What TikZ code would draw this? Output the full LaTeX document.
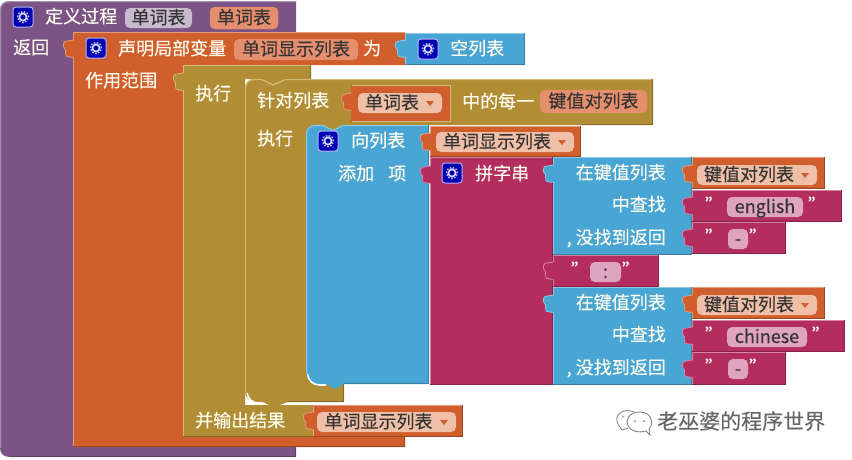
\documentclass[tikz,border=0pt]{standalone}
\usepackage{fontspec}
\setmainfont{Noto Sans CJK SC}[FakeBold=0.2]
\definecolor{pur}{HTML}{7C5385}\definecolor{purL}{HTML}{A88FB0}\definecolor{purD}{HTML}{5E3F66}
\definecolor{org}{HTML}{D05F2D}\definecolor{orgL}{HTML}{E59A78}\definecolor{orgD}{HTML}{9C4722}
\definecolor{olv}{HTML}{B18E35}\definecolor{olvL}{HTML}{D2BC78}\definecolor{olvD}{HTML}{85692A}
\definecolor{blu}{HTML}{49A6D4}\definecolor{bluL}{HTML}{8CCBE8}\definecolor{bluD}{HTML}{3A7FA3}
\definecolor{mag}{HTML}{B32D5E}\definecolor{magL}{HTML}{D684A2}\definecolor{magD}{HTML}{86224A}
\definecolor{icob}{HTML}{0000B0}\definecolor{txtw}{HTML}{FFFDF0}
\definecolor{fpur}{HTML}{C8BBCE}\definecolor{forg}{HTML}{E58F6F}\definecolor{fdrop}{HTML}{F0BFA8}\definecolor{fmag}{HTML}{E0A5BE}
\tikzset{
  lbl/.style={inner sep=0pt,text height=15pt,text depth=3pt,font=\fontsize{18}{18}\selectfont},
  wlab/.style={lbl,text=txtw,anchor=west},
  rlab/.style={lbl,text=txtw,anchor=east},
  fieldbox/.style={lbl,text=black!80,rounded corners=5pt,align=center},
  quote/.style={inner sep=0pt,text=txtw,font=\fontsize{18}{18}\selectfont\itshape}
}
% x1 y1 x2 y2 colour
\newcommand{\blk}[5]{%
  \fill[#5] (#1,#2) rectangle (#3,#4);
  \draw[#5L,line width=1pt] (#1+.5,#4) -- (#1+.5,#2+.5) -- (#3,#2+.5);
  \draw[#5D,line width=1pt] (#1,#4-.5) -- (#3-.5,#4-.5) -- (#3-.5,#2);}
% x y0 colour
\newcommand{\tabL}[3]{%
  \filldraw[fill=#3,draw=#3L,line width=.8pt] (#1+.6,#2) .. controls (#1-3,#2+1) and (#1-5,#2+.5) .. (#1-8,#2+1.5) .. controls (#1-10.5,#2+3) and (#1-10,#2+8) .. (#1-7.5,#2+9.5) .. controls (#1-6,#2+11) and (#1-9,#2+13) .. (#1-7,#2+16) .. controls (#1-5,#2+18) and (#1-2,#2+16.5) .. (#1+.6,#2+17.2);
  \fill[#3] (#1,#2+1) rectangle (#1+2,#2+16.5);}
% name cx cy
\newcommand{\ico}[3]{%
  \node (#1) at (#2,#3) [fill=icob,draw=white!70!blue,line width=1pt,rounded corners=3pt,minimum size=20pt,inner sep=0pt] {};
  \draw[white!85!blue,line width=1.7pt] (#2,#3) circle (3.6pt);
  \draw[white!75!blue,line width=1.4pt,dash pattern=on 1.6pt off 1.5pt] (#2,#3) circle (5.6pt);}
% name x1 y1 x2 y2 fill text
\newcommand{\fld}[7]{%
  \node (#1) at ({(#2+#4)/2},{(#3+#5)/2}) [fieldbox,fill=#6,minimum width=#4pt-#2pt,minimum height=#5pt-#3pt] {#7};}
% name x1 y1 x2 y2 text : dropdown field
\newcommand{\drp}[6]{%
  \node (#1) at ({(#2+#4)/2},{(#3+#5)/2}) [fieldbox,fill=fdrop,minimum width=#4pt-#2pt,minimum height=#5pt-#3pt] {#6\hspace{16pt}};
  \fill[org] (#4-16,{(#3+#5)/2-2}) -- (#4-8,{(#3+#5)/2-2}) -- (#4-12,{(#3+#5)/2+3}) -- cycle;}
\begin{document}
\begin{tikzpicture}[x=1pt,y=-1pt]
\useasboundingbox (0,0) rectangle (852,459);
\fill[white] (0,0) rectangle (852,459);
% procedure block
\fill[pur] (0,10) .. controls (0,4) and (4,1) .. (10,1) -- (296,1) -- (296,33) -- (73,33) -- (73,447) -- (296,447) -- (296,457) -- (10,457) .. controls (4,457) and (0,454) .. (0,448) -- cycle;
\draw[purL,line width=1.2pt] (.6,448) -- (.6,10) .. controls (.6,5) and (4,1.6) .. (10,1.6) -- (296,1.6);
\draw[purD,line width=1pt] (10,456.6) -- (295.5,456.6) -- (295.5,447);
\ico{icoA}{23}{17}
\node (tA) at (45,17) [wlab] {定义过程};
\fld{fA}{125}{8}{192}{28}{fpur}{单词表}
\node (fB) at (244,18) [fieldbox,fill=forg,draw=orgL,minimum width=68pt,minimum height=22pt] {单词表};
\node (tB) at (13,48) [wlab] {返回};
% local variable block
\fill[org] (73,32) -- (405,32) -- (405,65) -- (183,65) -- (183,437) -- (405,437) -- (405,447) -- (73,447) -- cycle;
\draw[orgL,line width=1pt] (73.5,447) -- (73.5,32.5) -- (405,32.5);
\draw[orgD,line width=1pt] (73,446.5) -- (404.5,446.5) -- (404.5,437);
\tabL{73}{40}{org}
\ico{icoB}{96}{48}
\node (tC) at (118,49) [wlab] {声明局部变量};
\fld{fC}{234}{39}{358}{60}{forg}{单词显示列表}
\node (tD) at (363,49) [wlab] {为};
\node (tE) at (85,81) [wlab] {作用范围};
% empty list
\blk{405}{33}{525}{65}{blu}
\tabL{405}{40}{blu}
\ico{icoC}{428}{49}
\node (tF) at (450,49) [wlab] {空列表};
% do block (outer)
\fill[olv] (183,65) -- (311,65) -- (311,79) -- (245,79) -- (245,405) -- (313,405) -- (313,437) -- (183,437) -- cycle;
\draw[olvL,line width=1pt] (183.5,437) -- (183.5,65.5) -- (311,65.5);
\draw[olvD,line width=1pt] (183,436.5) -- (313,436.5);
\draw[olvD,line width=1pt] (310.5,65) -- (310.5,79);
\tabL{183}{73}{olv}
\node (tG) at (195,94) [wlab] {执行};
\node (tH) at (195,421) [wlab] {并输出结果};
% for-each block
\fill[olv] (245,88) .. controls (245,82) and (249,79) .. (255,79) -- (653,79) -- (653,125) -- (344,125) -- (344,402) -- (288,402) -- (274,407) -- (262,402) -- (258,402) .. controls (250,402) and (245,398) .. (245,392) -- cycle;
\draw[olvL,line width=1.2pt] (245.6,392) -- (245.6,88) .. controls (245.6,83) and (249,79.6) .. (255,79.6) -- (262,79.6) -- (273,85) -- (285,79.6) -- (653,79.6);
\draw[olvD,line width=1pt] (652.5,79) -- (652.5,124.5) -- (582,124.5);
\draw[olvD,line width=1pt] (288,401.5) -- (343.5,401.5) -- (343.5,384);
\draw[white,line width=1.6pt] (247,393) .. controls (248,399) and (252,403) .. (260,403.5) -- (265,403.5);
\node (tI) at (257,101) [wlab] {针对列表};
\node (tJ) at (257,139) [wlab] {执行};
\node (tK) at (462,102) [wlab] {中的每一};
\fld{fD}{540}{90}{647}{113}{forg}{键值对列表}
% list variable
\fill[org] (351,85) rectangle (451,122);
\draw[olvL,line width=1pt] (351.5,85.5) -- (450.5,85.5) -- (450.5,121.5) -- (351.5,121.5);
\tabL{351}{93}{org}
\drp{fE}{358}{93}{442}{113}{单词表}
% add-items block
\fill[blu] (306,134) .. controls (306,128) and (310,125) .. (316,125) -- (323,125) -- (333,130) -- (343,125) -- (429,125) -- (429,384) -- (344,384) -- (335,389) -- (326,384) -- (319,384) .. controls (311,384) and (306,380) .. (306,373) -- cycle;
\draw[bluL,line width=1pt] (306.5,373) -- (306.5,134) .. controls (306.5,129) and (310,125.5) .. (316,125.5) -- (323,125.5) -- (333,130.5) -- (343,125.5) -- (429,125.5);
\draw[bluD,line width=1pt] (344,383.5) -- (428.5,383.5) -- (428.5,125);
\draw[white,line width=1.6pt] (307.5,374) .. controls (308.5,381) and (313,385) .. (320,385) -- (326,385);
\ico{icoD}{328}{141}
\node (tL) at (351,141) [wlab] {向列表};
\node (tM) at (338,174) [wlab] {添加};
\node (tN) at (388,174) [wlab] {项};
% list variable 2
\blk{430}{126}{581}{157}{org}
\tabL{430}{133}{org}
\drp{fF}{436}{132}{574}{152}{单词显示列表}
% join block
\blk{430}{157}{553}{385}{mag}
\tabL{430}{166}{mag}
\ico{icoE}{452}{173}
\node (tO) at (475,174) [wlab] {拼字串};
% lookup 1
\blk{553}{157}{692}{255}{blu}
\tabL{553}{165}{blu}
\node (tP) at (666,173) [rlab] {在键值列表};
\node (tQ) at (666,205) [rlab] {中查找};
\node (tR) at (666,238) [rlab] {, 没找到返回};
\blk{692}{157}{825}{189}{org}
\tabL{692}{165}{org}
\drp{fG}{697}{165}{817}{185}{键值对列表}
\blk{692}{190}{842}{222}{mag}
\tabL{692}{197}{mag}
\node (qA) at (714,204) [quote] {"};
\fld{fH}{727}{197}{803}{217}{fmag}{english}
\node (qB) at (817,204) [quote] {"};
\blk{692}{222}{786}{254}{mag}
\tabL{692}{229}{mag}
\node (qC) at (714,236) [quote] {"};
\fld{fI}{728}{229}{748}{249}{fmag}{-}
\node (qD) at (758,236) [quote] {"};
% colon
\blk{553}{255}{659}{287}{mag}
\tabL{553}{262}{mag}
\node (qE) at (580,269) [quote] {"};
\fld{fJ}{590}{262}{621}{282}{fmag}{:}
\node (qF) at (631,269) [quote] {"};
% lookup 2
\blk{553}{287}{692}{385}{blu}
\tabL{553}{295}{blu}
\node (tS) at (666,303) [rlab] {在键值列表};
\node (tT) at (666,335) [rlab] {中查找};
\node (tU) at (666,368) [rlab] {, 没找到返回};
\blk{692}{287}{825}{319}{org}
\tabL{692}{295}{org}
\drp{fK}{697}{295}{817}{315}{键值对列表}
\blk{692}{320}{845}{352}{mag}
\tabL{692}{327}{mag}
\node (qG) at (714,334) [quote] {"};
\fld{fL}{727}{327}{807}{347}{fmag}{chinese}
\node (qH) at (821,334) [quote] {"};
\blk{692}{352}{786}{385}{mag}
\tabL{692}{360}{mag}
\node (qI) at (714,366) [quote] {"};
\fld{fM}{728}{359}{748}{379}{fmag}{-}
\node (qJ) at (758,366) [quote] {"};
% result variable
\blk{313}{405}{463}{437}{org}
\tabL{313}{412}{org}
\drp{fN}{317}{412}{456}{432}{单词显示列表}
% watermark
\draw[black!50,line width=.8pt,fill=white] (636,413) .. controls (626,407) and (615,413) .. (617,421) .. controls (618,426) and (621,428) .. (622,430) -- (628,428);
\draw[black!50,line width=.8pt,fill=white] (640,412) .. controls (629,412) and (625,420) .. (628,426) .. controls (631,432) and (640,433) .. (646,431) -- (650,435) -- (649,429) .. controls (654,424) and (652,412) .. (640,412) -- cycle;
\fill[black!50] (635,421) circle (1pt) (644,421) circle (1pt) (623,417) circle (.8pt);
\node (wm) at (657,421) [anchor=west,inner sep=0pt,text=black!60,font=\fontsize{21}{21}\selectfont] {老巫婆的程序世界};
\end{tikzpicture}
\end{document}
